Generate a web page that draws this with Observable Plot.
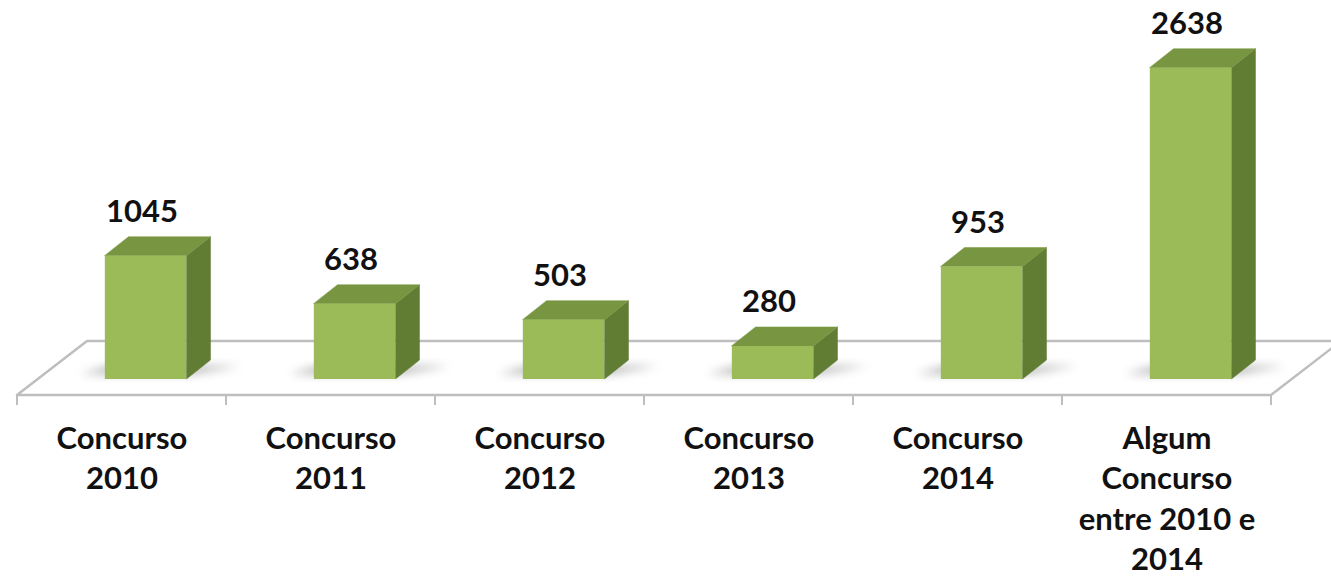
<!DOCTYPE html>
<html><head><meta charset="utf-8">
<script src="https://cdn.jsdelivr.net/npm/d3@7"></script>
<script src="https://cdn.jsdelivr.net/npm/@observablehq/plot@0.6"></script>
<style>html,body{margin:0;padding:0;background:#fff;overflow:hidden} svg{display:block}</style>
</head><body><div id="chart"></div>
<script>
const categories = ["Concurso\n2010","Concurso\n2011","Concurso\n2012","Concurso\n2013","Concurso\n2014","Algum\nConcurso\nentre 2010 e\n2014"];
const values = [1045, 638, 503, 280, 953, 2638];
const data = categories.map((c, i) => ({category: c, value: values[i]}));

const FRONT = "#9BBB59", TOP = "#789641", SIDE = "#617D34", FLOOR = "#BEBEBE";
const DX = 24, DY = -19;      // bar depth (px)
const OFF = 24, BW = 82;      // bar front face offset from band centre, width (px)

function scene(index, scales) {
  const x = scales.x, y = scales.y;
  const bw = x(categories[1]) - x(categories[0]);
  const xl = x(categories[0]), xr = x(categories[categories.length - 1]) + bw;
  const y0 = y(0);
  const fy = y0 + 16, by = y0 - 38, fdx = 70;
  const g = d3.create("svg:g");
  const f = g.append("defs").append("filter").attr("id", "sb")
    .attr("x", "-50%").attr("y", "-100%").attr("width", "200%").attr("height", "300%");
  f.append("feGaussianBlur").attr("stdDeviation", 5);
  g.append("path")
    .attr("d", `M${xl},${fy}L${xr},${fy}L${xr + fdx},${by}L${xl + fdx},${by}Z`)
    .attr("fill", "#fff").attr("stroke", FLOOR).attr("stroke-width", 2.5).attr("stroke-linejoin", "round");
  for (let i = 0; i <= categories.length; i++) {
    const tx = xl + i * bw;
    g.append("line").attr("x1", tx).attr("x2", tx).attr("y1", fy).attr("y2", fy + 10)
      .attr("stroke", FLOOR).attr("stroke-width", 2);
  }
  for (const d of data) {
    const c = x(d.category) + bw / 2 + OFF;
    const x0 = c - BW / 2, x1 = c + BW / 2;
    g.append("path")
      .attr("d", `M${x0 - 24},${y0 - 5}L${x1 + 5},${y0 - 5}L${x1 + DX + 30},${y0 + DY + 6}L${x0 + DX - 18},${y0 + DY + 6}Z`)
      .attr("fill", "#808080").attr("opacity", 0.6).attr("filter", "url(#sb)");
  }
  for (const d of data) {
    const c = x(d.category) + bw / 2 + OFF;
    const x0 = c - BW / 2, x1 = c + BW / 2, yt = y(d.value);
    g.append("path")
      .attr("d", `M${x1},${yt}L${x1 + DX},${yt + DY}L${x1 + DX},${y0 + DY}L${x1},${y0}Z`)
      .attr("fill", SIDE).attr("stroke", SIDE).attr("stroke-width", 0.5);
    g.append("path")
      .attr("d", `M${x0},${yt}L${x1},${yt}L${x1 + DX},${yt + DY}L${x0 + DX},${yt + DY}Z`)
      .attr("fill", TOP).attr("stroke", TOP).attr("stroke-width", 0.5);
  }
  return g.node();
}

const W = 1331, H = 582;
const bandW = (1273 - 15) / categories.length;
const FONT = "Lato, 'Open Sans', sans-serif";
const chart = Plot.plot({
  width: W, height: H,
  marginLeft: 15, marginRight: W - 1273, marginTop: 25, marginBottom: 203,
  style: {fontFamily: FONT, fontSize: "31px", fontWeight: "bold", color: "#111", background: "#fff", overflow: "hidden"},
  x: {domain: categories, padding: 0},
  y: {domain: [0, 3000], axis: null},
  marks: [
    scene,
    Plot.barY(data, {x: "category", y: "value", fill: FRONT,
      insetLeft: bandW / 2 + OFF - BW / 2, insetRight: bandW / 2 - OFF - BW / 2}),
    Plot.text(data, {x: "category", y: "value", text: d => String(d.value), dx: 20, dy: -44,
      fontSize: 31, fontWeight: "bold", fill: "#111", fontFamily: FONT}),
    Plot.axisX({tickSize: 0, tickPadding: 41, lineAnchor: "top", lineHeight: 1.3, label: null,
      fontSize: 31, fontWeight: "bold", fill: "#111", fontFamily: FONT})
  ]
});
document.getElementById("chart").append(chart);
</script>
</body></html>
